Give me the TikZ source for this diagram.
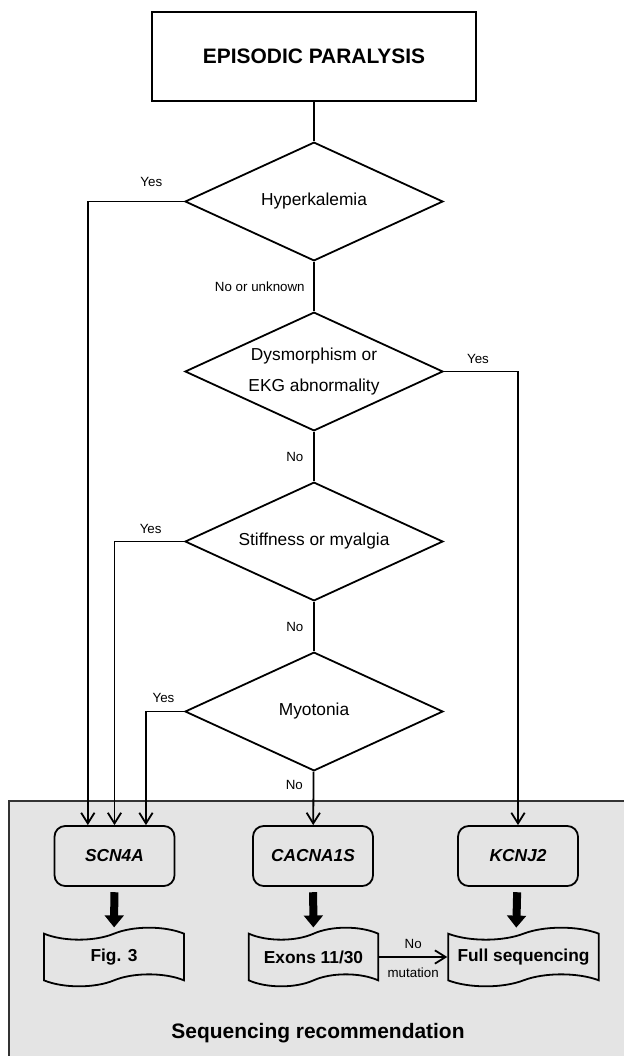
\documentclass[tikz,border=0pt]{standalone}
\usepackage{fontspec}
\setmainfont{Liberation Sans}
\usetikzlibrary{arrows.meta,shapes.geometric,shapes.symbols}
\definecolor{panelgray}{RGB}{228,228,228}

\begin{document}
\begin{tikzpicture}[x=0.75pt,y=0.75pt,->,>={Straight Barb[length=8pt,width=10pt]},
	line width=1.35pt,node distance=127.5pt,
	title node/.style={rectangle,draw,minimum width=243pt,minimum height=66.75pt,
		font=\fontsize{15.7}{18}\selectfont\bfseries},
	test node/.style={diamond,draw,aspect=2.17,inner sep=0pt,minimum width=193.5pt,
		minimum height=89pt,align=center,font=\fontsize{13}{23}\selectfont},
	gene node/.style={rectangle,rounded corners=8pt,draw,minimum width=90pt,
		minimum height=45pt,font=\fontsize{13}{15}\selectfont\bfseries\itshape},
	doc node/.style={tape,draw,tape bend height=9pt,minimum height=44pt,
		font=\fontsize{13}{15}\selectfont\bfseries},
	big arrow/.style={-{Triangle[length=9pt,width=14pt]},line width=6pt},
	tag/.style={font=\fontsize{10}{12}\selectfont}]

	\useasboundingbox (0,0) rectangle (624,-1056);
	\filldraw[-,fill=panelgray,draw=black!80,line width=0.8pt] (9,-801) rectangle (640,-1070);

	\node[title node] (0) at (314,-56.5) {EPISODIC PARALYSIS};
	\node[test node] (1) at (314,-201.5) {Hyperkalemia};
	\node[test node] (2) [below of=1] {Dysmorphism or\\EKG abnormality};
	\node[test node] (3) [below of=2] {Stiffness or myalgia};
	\node[test node] (4) [below of=3] {Myotonia};

	\node[gene node] (5) at (114.5,-856) {SCN4A};
	\node[gene node] (6) at (313,-856) {CACNA1S};
	\node[gene node] (7) at (518,-856) {KCNJ2};

	\node[doc node,minimum width=105pt] (8) at (114,-957) {Fig. 3};
	\node[doc node,minimum width=97pt] (9) at (313.5,-957) {Exons 11/30};
	\node[doc node,minimum width=113pt] (10) at (523.5,-957) {Full sequencing};
	\node[font=\fontsize{15.7}{18}\selectfont\bfseries] (11) at (318,-1033) {Sequencing recommendation};

	\draw[-] (0) -- (1);
	\draw (1.west) -| node[tag,pos=0.17,above=7pt] {Yes} ([xshift=-20pt]5.north);
	\draw[-] (1) -- node[tag,left=3pt] {No or unknown} (2);
	\draw (2.east) -| node[tag,pos=0.23,above=2pt] {Yes} (7.north);
	\draw[-] (2) -- node[tag,left=4pt] {No} (3);
	\draw (3.west) -| node[tag,pos=0.24,above=2pt] {Yes} (5.north);
	\draw[-] (3) -- node[tag,left=4pt] {No} (4);
	\draw (4.west) -| node[tag,pos=0.27,above=3pt] {Yes} ([xshift=23.6pt]5.north);
	\draw (4) -- node[tag,pos=0.25,left=4pt] {No} (6);

	\draw[big arrow,shorten <=4pt,shorten >=4pt] (5) -- (8);
	\draw[big arrow,shorten <=4pt,shorten >=4pt] (6) -- (9);
	\draw[big arrow,shorten <=4pt,shorten >=4pt] (7) -- ([xshift=-5.5pt]10.north);
	\draw (9) -- node[tag,above=2pt] {No} node[tag,below=4pt] {mutation} (10);
\end{tikzpicture}
\end{document}
